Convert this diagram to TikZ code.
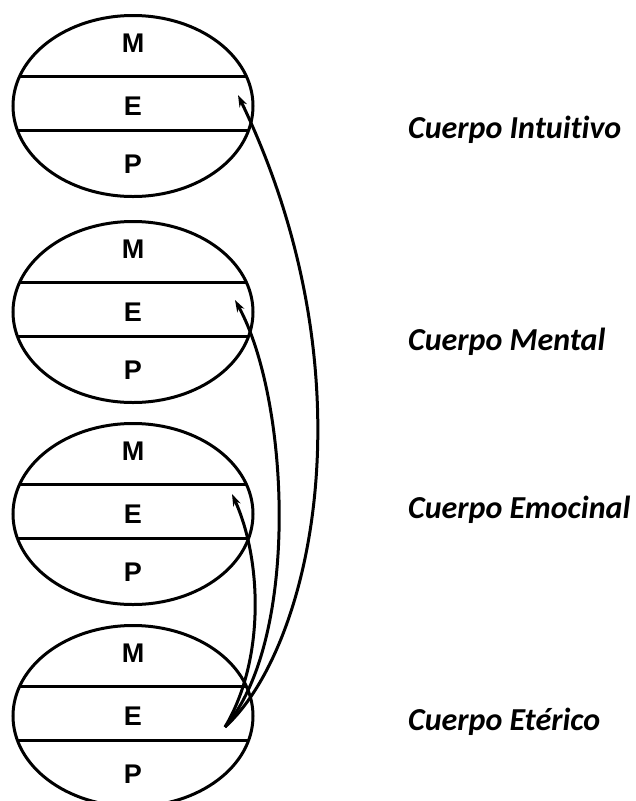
\documentclass[tikz,border=0pt]{standalone}
\usepackage{fontspec}
\setmainfont{Liberation Sans}
\newfontfamily\bodyfont[Ligatures=NoCommon]{Carlito}
\usetikzlibrary{shapes.geometric,arrows.meta}

\tikzset{
  body/.style={ellipse,draw,line width=3pt,minimum width=240pt,minimum height=181pt,inner sep=0pt},
  chord/.style={line width=3pt},
  layer/.style={font=\bfseries\fontsize{27}{27}\selectfont},
  bodyname/.style={anchor=base west,inner sep=0pt,font=\bodyfont\bfseries\itshape\fontsize{32}{32}\selectfont},
  link/.style={line width=3pt,-{Stealth[length=12pt,width=8pt]}}
}

\begin{document}
\begin{tikzpicture}[x=1pt,y=-1pt]
      \useasboundingbox (0,0) rectangle (635,801);
      \draw
        (133,106) node[body] (intu){}
        (133,312) node[body] (ment){}
        (133,514) node[body] (emoc){}
        (133,716) node[body] (eter){};
      % the three layers of each body
      \draw[chord] ([shift={(-113,-30)}]intu.center) -- ([shift={(113,-30)}]intu.center);
      \draw[chord] ([shift={(-116,24)}]intu.center) -- ([shift={(116,24)}]intu.center);
      \draw[chord] ([shift={(-113,-30)}]ment.center) -- ([shift={(113,-30)}]ment.center);
      \draw[chord] ([shift={(-116,24)}]ment.center) -- ([shift={(116,24)}]ment.center);
      \draw[chord] ([shift={(-113,-30)}]emoc.center) -- ([shift={(113,-30)}]emoc.center);
      \draw[chord] ([shift={(-116,24)}]emoc.center) -- ([shift={(116,24)}]emoc.center);
      \draw[chord] ([shift={(-113,-30)}]eter.center) -- ([shift={(113,-30)}]eter.center);
      \draw[chord] ([shift={(-116,24)}]eter.center) -- ([shift={(116,24)}]eter.center);
      \path (intu.center) ++(0,-63) node[layer] (intuM){M} ++(0,63) node[layer] (intuE){E} ++(0,58) node[layer] (intuP){P};
      \path (ment.center) ++(0,-63) node[layer] (mentM){M} ++(0,63) node[layer] (mentE){E} ++(0,58) node[layer] (mentP){P};
      \path (emoc.center) ++(0,-63) node[layer] (emocM){M} ++(0,63) node[layer] (emocE){E} ++(0,58) node[layer] (emocP){P};
      \path (eter.center) ++(0,-63) node[layer] (eterM){M} ++(0,63) node[layer] (eterE){E} ++(0,58) node[layer] (eterP){P};
      % names
      \draw
        (408,138) node[bodyname] (intuname){Cuerpo Intuitivo}
        (408,350) node[bodyname] (mentname){Cuerpo Mental}
        (408,518) node[bodyname] (emocname){Cuerpo Emocinal}
        (408,730) node[bodyname] (etername){Cuerpo Etérico};
      % links from the etheric body
      \coordinate (src) at (225,727);
      \coordinate (intutip) at (238,95);
      \coordinate (menttip) at (235,300);
      \coordinate (emoctip) at (232,494);
      \begin{scope}[link]
        \draw (src) .. controls (310,650) and (375,380) .. (intutip);
        \draw (src) .. controls (300,640) and (290,400) .. (menttip);
        \draw (src) .. controls (265,660) and (262,560) .. (emoctip);
      \end{scope}
    \end{tikzpicture}
\end{document}
